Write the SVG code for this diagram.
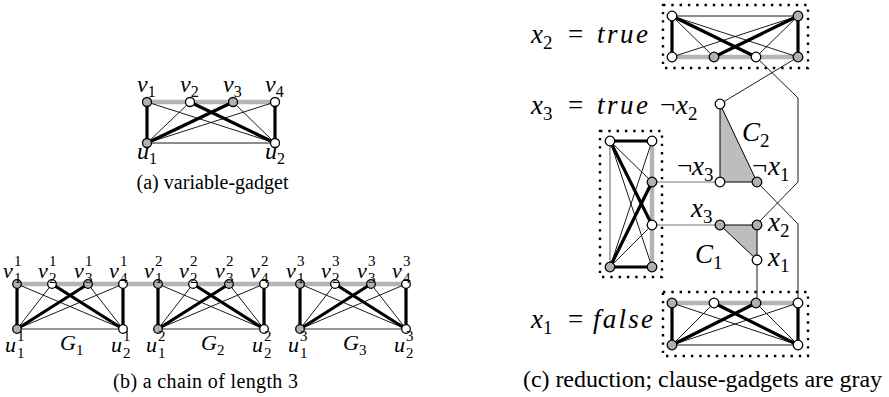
<svg xmlns="http://www.w3.org/2000/svg" width="889" height="397" viewBox="0 0 889 397" font-family="Liberation Serif, serif">
<style>
.tn{stroke:#000;stroke-width:0.9;fill:none}
.tb{stroke:#333;stroke-width:1;fill:none}
.tk{stroke:#000;stroke-width:3.2;fill:none;stroke-linecap:round}
.bd{stroke:#b4b4b4;stroke-width:4.5;fill:none}
.gl{stroke:#777;stroke-width:1.2;fill:none}
.g{fill:#b0b0b0;stroke:#000;stroke-width:1.3}
.w{fill:#fff;stroke:#000;stroke-width:1.3}
.box{fill:none;stroke:#000;stroke-width:2.4;stroke-dasharray:2.4 5.9}
.cl{fill:#bdbdbd;stroke:#000;stroke-width:1}
.mi{font-style:italic}
.s{font-style:normal}
</style>
<defs>
<g id="cg">
<line class="bd" x1="0" y1="0" x2="106" y2="0"/>
<line class="tb" x1="0" y1="45" x2="106" y2="45"/>
<line class="tn" x1="0" y1="45" x2="35" y2="0"/>
<line class="tn" x1="0" y1="45" x2="106" y2="0"/>
<line class="tn" x1="106" y1="45" x2="0" y2="0"/>
<line class="tn" x1="106" y1="45" x2="71" y2="0"/>
<line class="tk" x1="0" y1="45" x2="0" y2="0"/>
<line class="tk" x1="0" y1="45" x2="71" y2="0"/>
<line class="tk" x1="106" y1="45" x2="35" y2="0"/>
<line class="tk" x1="106" y1="45" x2="106" y2="0"/>
<circle class="g" cx="0" cy="0" r="4.3"/>
<circle class="w" cx="35" cy="0" r="4.3"/>
<circle class="g" cx="71" cy="0" r="4.3"/>
<circle class="w" cx="106" cy="0" r="4.3"/>
<circle class="g" cx="0" cy="45" r="4.3"/>
<circle class="w" cx="106" cy="45" r="4.3"/>
</g>
</defs>

<g id="gadget-a">
<line class="bd" x1="147" y1="102" x2="275" y2="102"/>
<line class="tn" x1="147" y1="143" x2="275" y2="143"/>
<line class="tn" x1="147" y1="143" x2="190" y2="102"/>
<line class="tn" x1="147" y1="143" x2="275" y2="102"/>
<line class="tn" x1="275" y1="143" x2="147" y2="102"/>
<line class="tn" x1="275" y1="143" x2="233" y2="102"/>
<line class="tk" x1="147" y1="143" x2="147" y2="102"/>
<line class="tk" x1="147" y1="143" x2="233" y2="102"/>
<line class="tk" x1="275" y1="143" x2="190" y2="102"/>
<line class="tk" x1="275" y1="143" x2="275" y2="102"/>
<circle class="g" cx="147" cy="102" r="4.5"/>
<circle class="w" cx="190" cy="102" r="4.5"/>
<circle class="g" cx="233" cy="102" r="4.5"/>
<circle class="w" cx="275" cy="102" r="4.5"/>
<circle class="g" cx="147" cy="143" r="4.5"/>
<circle class="w" cx="275" cy="143" r="4.5"/>
</g>
<g id="labels-a" class="mi" font-size="24">
<text x="137" y="92">v<tspan class="s" font-size="16" dy="5">1</tspan></text>
<text x="180" y="92">v<tspan class="s" font-size="16" dy="5">2</tspan></text>
<text x="223" y="92">v<tspan class="s" font-size="16" dy="5">3</tspan></text>
<text x="265" y="92">v<tspan class="s" font-size="16" dy="5">4</tspan></text>
<text x="137" y="159">u<tspan class="s" font-size="16" dy="5">1</tspan></text>
<text x="265" y="159">u<tspan class="s" font-size="16" dy="5">2</tspan></text>
</g>
<text id="caption-a" x="212.5" y="189" font-size="20" text-anchor="middle" textLength="152" lengthAdjust="spacing">(a) variable-gadget</text>

<g id="connectors-b">
<line class="bd" x1="123" y1="284" x2="158" y2="284"/>
<line class="bd" x1="264" y1="284" x2="300" y2="284"/>
</g>
<g id="G1"><use href="#cg" transform="translate(17,284)"/></g>
<g id="G2"><use href="#cg" transform="translate(158,284)"/></g>
<g id="G3"><use href="#cg" transform="translate(300,284)"/></g>
<g id="labels-b" class="mi" font-size="22">
<text x="3" y="278">v<tspan class="s" font-size="15" x="14" y="266">1</tspan><tspan class="s" font-size="15" x="14" y="283">1</tspan></text>
<text x="38" y="278">v<tspan class="s" font-size="15" x="49" y="266">1</tspan><tspan class="s" font-size="15" x="49" y="283">2</tspan></text>
<text x="74" y="278">v<tspan class="s" font-size="15" x="85" y="266">1</tspan><tspan class="s" font-size="15" x="85" y="283">3</tspan></text>
<text x="109" y="278">v<tspan class="s" font-size="15" x="120" y="266">1</tspan><tspan class="s" font-size="15" x="120" y="283">4</tspan></text>
<text x="144" y="278">v<tspan class="s" font-size="15" x="155" y="266">2</tspan><tspan class="s" font-size="15" x="155" y="283">1</tspan></text>
<text x="179" y="278">v<tspan class="s" font-size="15" x="190" y="266">2</tspan><tspan class="s" font-size="15" x="190" y="283">2</tspan></text>
<text x="215" y="278">v<tspan class="s" font-size="15" x="226" y="266">2</tspan><tspan class="s" font-size="15" x="226" y="283">3</tspan></text>
<text x="250" y="278">v<tspan class="s" font-size="15" x="261" y="266">2</tspan><tspan class="s" font-size="15" x="261" y="283">4</tspan></text>
<text x="286" y="278">v<tspan class="s" font-size="15" x="297" y="266">3</tspan><tspan class="s" font-size="15" x="297" y="283">1</tspan></text>
<text x="321" y="278">v<tspan class="s" font-size="15" x="332" y="266">3</tspan><tspan class="s" font-size="15" x="332" y="283">2</tspan></text>
<text x="357" y="278">v<tspan class="s" font-size="15" x="368" y="266">3</tspan><tspan class="s" font-size="15" x="368" y="283">3</tspan></text>
<text x="392" y="278">v<tspan class="s" font-size="15" x="403" y="266">3</tspan><tspan class="s" font-size="15" x="403" y="283">4</tspan></text>
<text x="5" y="352">u<tspan class="s" font-size="15" x="17" y="341">1</tspan><tspan class="s" font-size="15" x="17" y="358">1</tspan></text>
<text x="111" y="352">u<tspan class="s" font-size="15" x="123" y="341">1</tspan><tspan class="s" font-size="15" x="123" y="358">2</tspan></text>
<text x="146" y="352">u<tspan class="s" font-size="15" x="158" y="341">2</tspan><tspan class="s" font-size="15" x="158" y="358">1</tspan></text>
<text x="252" y="352">u<tspan class="s" font-size="15" x="264" y="341">2</tspan><tspan class="s" font-size="15" x="264" y="358">2</tspan></text>
<text x="288" y="352">u<tspan class="s" font-size="15" x="300" y="341">3</tspan><tspan class="s" font-size="15" x="300" y="358">1</tspan></text>
<text x="394" y="352">u<tspan class="s" font-size="15" x="406" y="341">3</tspan><tspan class="s" font-size="15" x="406" y="358">2</tspan></text>
<text x="60" y="350">G<tspan class="s" font-size="15" dy="5">1</tspan></text>
<text x="201" y="350">G<tspan class="s" font-size="15" dy="5">2</tspan></text>
<text x="343" y="350">G<tspan class="s" font-size="15" dy="5">3</tspan></text>
</g>
<text id="caption-b" x="205.5" y="388" font-size="20" text-anchor="middle" textLength="185" lengthAdjust="spacing">(b) a chain of length 3</text>

<g id="connectors-c">
<polyline class="tn" points="756,57 798,98 798,182 757,224"/>
<polyline class="tn" points="757,182 798,224 798,303"/>
<line class="tn" x1="798" y1="57" x2="720" y2="104"/>
<line class="tn" x1="757" y1="260" x2="757" y2="303"/>
<line class="gl" x1="652" y1="182" x2="720" y2="182"/>
<line class="gl" x1="652" y1="225" x2="720" y2="225"/>
</g>

<g id="x2-gadget">
<rect class="box" x="663" y="5" width="145" height="63"/>
<line class="bd" x1="672" y1="57" x2="798" y2="57"/>
<line class="tn" x1="672" y1="16" x2="798" y2="16"/>
<line class="tn" x1="672" y1="16" x2="714" y2="57"/>
<line class="tn" x1="672" y1="16" x2="798" y2="57"/>
<line class="tn" x1="798" y1="16" x2="672" y2="57"/>
<line class="tn" x1="798" y1="16" x2="756" y2="57"/>
<line class="tk" x1="672" y1="16" x2="672" y2="57"/>
<line class="tk" x1="672" y1="16" x2="756" y2="57"/>
<line class="tk" x1="798" y1="16" x2="714" y2="57"/>
<line class="tk" x1="798" y1="16" x2="798" y2="57"/>
<circle class="w" cx="672" cy="16" r="4.8"/>
<circle class="g" cx="798" cy="16" r="4.8"/>
<circle class="w" cx="672" cy="57" r="4.8"/>
<circle class="g" cx="714" cy="57" r="4.8"/>
<circle class="w" cx="756" cy="57" r="4.8"/>
<circle class="g" cx="798" cy="57" r="4.8"/>
</g>

<g id="x3-gadget">
<rect class="box" x="600" y="131" width="62" height="146"/>
<line class="bd" x1="652" y1="141" x2="652" y2="267"/>
<line class="gl" x1="610" y1="141" x2="610" y2="267"/>
<line class="tn" x1="610" y1="141" x2="652" y2="182"/>
<line class="tn" x1="610" y1="141" x2="652" y2="267"/>
<line class="tn" x1="610" y1="267" x2="652" y2="141"/>
<line class="tn" x1="610" y1="267" x2="652" y2="225"/>
<line class="tk" x1="610" y1="141" x2="652" y2="141"/>
<line class="tk" x1="610" y1="141" x2="652" y2="225"/>
<line class="tk" x1="610" y1="267" x2="652" y2="267"/>
<line class="tk" x1="610" y1="267" x2="652" y2="182"/>
<circle class="w" cx="610" cy="141" r="4.8"/>
<circle class="w" cx="652" cy="141" r="4.8"/>
<circle class="g" cx="652" cy="182" r="4.8"/>
<circle class="w" cx="652" cy="225" r="4.8"/>
<circle class="g" cx="610" cy="267" r="4.8"/>
<circle class="g" cx="652" cy="267" r="4.8"/>
</g>

<g id="x1-gadget">
<rect class="box" x="663" y="292" width="145" height="64"/>
<line class="bd" x1="672" y1="303" x2="798" y2="303"/>
<line class="tn" x1="672" y1="345" x2="798" y2="345"/>
<line class="tn" x1="672" y1="345" x2="714" y2="303"/>
<line class="tn" x1="672" y1="345" x2="798" y2="303"/>
<line class="tn" x1="798" y1="345" x2="672" y2="303"/>
<line class="tn" x1="798" y1="345" x2="756" y2="303"/>
<line class="tk" x1="672" y1="345" x2="672" y2="303"/>
<line class="tk" x1="672" y1="345" x2="756" y2="303"/>
<line class="tk" x1="798" y1="345" x2="714" y2="303"/>
<line class="tk" x1="798" y1="345" x2="798" y2="303"/>
<circle class="g" cx="672" cy="303" r="4.8"/>
<circle class="w" cx="714" cy="303" r="4.8"/>
<circle class="g" cx="756" cy="303" r="4.8"/>
<circle class="w" cx="798" cy="303" r="4.8"/>
<circle class="g" cx="672" cy="345" r="4.8"/>
<circle class="w" cx="798" cy="345" r="4.8"/>
</g>

<g id="C2">
<polygon class="cl" points="720,104 720,182 757,182"/>
<circle class="w" cx="720" cy="104" r="4.8"/>
<circle class="w" cx="720" cy="182" r="4.8"/>
<circle class="g" cx="757" cy="182" r="4.8"/>
</g>
<g id="C1">
<polygon class="cl" points="720,225 757,225 757,260"/>
<circle class="g" cx="720" cy="225" r="4.8"/>
<circle class="g" cx="757" cy="225" r="4.8"/>
<circle class="w" cx="757" cy="260" r="4.8"/>
</g>

<g id="labels-c" class="mi" font-size="27">
<text x="531" y="43">x<tspan class="s" font-size="19" dy="6">2</tspan><tspan class="s" x="568" dy="-6">=</tspan><tspan x="597" textLength="51" lengthAdjust="spacing">true</tspan></text>
<text x="531" y="114">x<tspan class="s" font-size="19" dy="6">3</tspan><tspan class="s" x="568" dy="-6">=</tspan><tspan x="597" textLength="51" lengthAdjust="spacing">true</tspan></text>
<text x="531" y="328">x<tspan class="s" font-size="19" dy="6">1</tspan><tspan class="s" x="568" dy="-6">=</tspan><tspan x="593" textLength="60" lengthAdjust="spacing">false</tspan></text>
<text x="660" y="114"><tspan class="s">¬</tspan><tspan x="676">x</tspan><tspan class="s" font-size="19" dy="6">2</tspan></text>
<text x="677" y="175"><tspan class="s">¬</tspan><tspan x="692">x</tspan><tspan class="s" font-size="19" dy="6">3</tspan></text>
<text x="752" y="175"><tspan class="s">¬</tspan><tspan x="768">x</tspan><tspan class="s" font-size="19" dy="6">1</tspan></text>
<text x="691" y="217">x<tspan class="s" font-size="19" dy="6">3</tspan></text>
<text x="768" y="231">x<tspan class="s" font-size="19" dy="6">2</tspan></text>
<text x="768" y="266">x<tspan class="s" font-size="19" dy="6">1</tspan></text>
<text x="742" y="141">C<tspan class="s" font-size="19" dy="6">2</tspan></text>
<text x="695" y="263">C<tspan class="s" font-size="19" dy="6">1</tspan></text>
</g>
<text id="caption-c" x="702.5" y="387" font-size="24" text-anchor="middle" textLength="359" lengthAdjust="spacing">(c) reduction; clause-gadgets are gray</text>
</svg>
